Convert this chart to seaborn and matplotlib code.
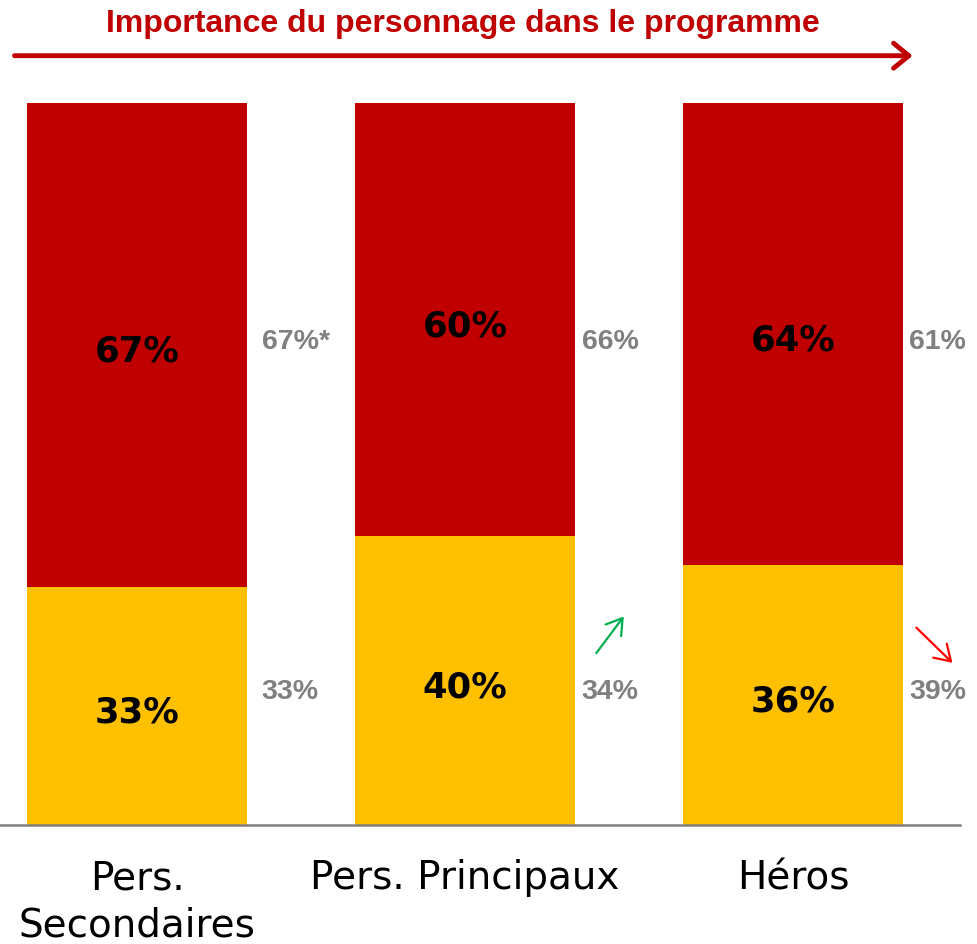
import pandas as pd
import matplotlib.pyplot as plt
import seaborn as sns

# Data
categories = ["Pers.\nSecondaires", "Pers. Principaux", "Héros"]
bottom_pct = [33, 40, 36]   # yellow segment
top_pct = [67, 60, 64]      # red segment
prev_top = ["67%*", "66%", "61%"]
prev_bottom = ["33%", "34%", "39%"]

RED = "#C00000"
YELLOW = "#FFC000"
GREY = "#808080"

df = pd.DataFrame({"cat": categories, "bottom": bottom_pct, "top": top_pct})
df["total"] = df["bottom"] + df["top"]

sns.set_style("white")
fig = plt.figure(figsize=(9.77, 9.45), dpi=100)
ax = fig.add_axes([0, 0.1259, 0.9826, 0.764])

sns.barplot(data=df, x="cat", y="total", color=RED, width=0.67, saturation=1,
            linewidth=0, ax=ax)
sns.barplot(data=df, x="cat", y="bottom", color=YELLOW, width=0.67, saturation=1,
            linewidth=0, ax=ax)

side_off = [0.38, 0.355, 0.355]
for i, (b, t) in enumerate(zip(bottom_pct, top_pct)):
    ax.text(i, b / 2 - 0.8, f"{b}%", ha="center", va="center", fontsize=25.5,
            fontweight="bold", family="DejaVu Sans", color="black")
    ax.text(i, b + t / 2 - 0.8, f"{t}%", ha="center", va="center", fontsize=25.5,
            fontweight="bold", family="DejaVu Sans", color="black")
    # previous-wave figures beside each bar
    ax.text(i + side_off[i], 67, prev_top[i], ha="left", va="center", fontsize=20.5,
            fontweight="bold", family="Liberation Sans", color=GREY)
    ax.text(i + side_off[i], 18.6, prev_bottom[i], ha="left", va="center", fontsize=20.5,
            fontweight="bold", family="Liberation Sans", color=GREY)

# trend arrows
ax.annotate("", xy=(1.489, 29.2), xytext=(1.395, 23.5),
            arrowprops=dict(arrowstyle="->,head_width=0.7,head_length=1.1",
                            color="#00B050", lw=1.6))
ax.annotate("", xy=(2.492, 22.2), xytext=(2.370, 27.6),
            arrowprops=dict(arrowstyle="->,head_width=0.7,head_length=1.1",
                            color="#FF0000", lw=1.6), annotation_clip=False)

ax.set_xlim(-0.418, 2.509)
ax.set_ylim(0, 100)
ax.set_xlabel("")
ax.set_ylabel("")
ax.set_yticks([])
ax.tick_params(axis="x", length=0, pad=24)
for lbl in ax.get_xticklabels():
    lbl.set_fontsize(28)
    lbl.set_family("DejaVu Sans")
    lbl.set_color("black")
    lbl.set_linespacing(1.3)
for s in ["top", "left", "right"]:
    ax.spines[s].set_visible(False)
ax.spines["bottom"].set_color(GREY)
ax.spines["bottom"].set_linewidth(1.8)

# title with long arrow
fig.text(0.474, 0.975, "Importance du personnage dans le programme", ha="center",
         va="center", fontsize=23, fontweight="bold", family="Liberation Sans", color=RED)
fig.patches.append(plt.matplotlib.patches.FancyArrowPatch(
    (0.012, 0.940), (0.937, 0.940), transform=fig.transFigure,
    arrowstyle="->,head_width=0.45,head_length=0.55", mutation_scale=20,
    color=RED, lw=3.5))

plt.savefig("out.png", dpi=100)
plt.close()
